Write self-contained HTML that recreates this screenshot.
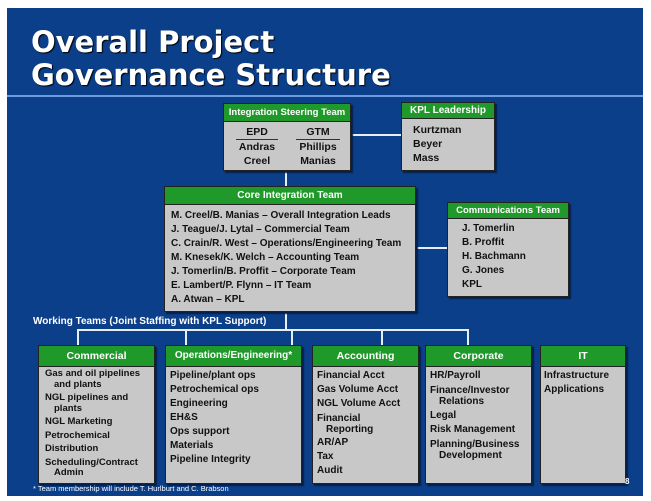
<!DOCTYPE html>
<html><head><meta charset="utf-8"><style>
body{margin:0;width:651px;height:501px;background:#fff;position:relative;overflow:hidden;font-family:"Liberation Sans",Arial,sans-serif}
#bg{position:absolute;left:7px;top:8px;width:636px;height:488px;background:#0c3f89}
.t{position:absolute;left:31px;top:26px;color:#fff;font:900 29px/33px "DejaVu Sans","Liberation Sans",sans-serif;letter-spacing:0;text-shadow:1px 1px 1px #000}
.sep{position:absolute;left:7px;top:95px;width:636px;height:2px;background:#6d9be0}
.box{position:absolute;background:#c8c8c8;border:1px solid #222;box-shadow:2px 2px 1px #05204a;font-size:10.5px;font-weight:bold;color:#111;line-height:14px}
.h{background:#1f9a2a;color:#fff;text-align:center;font-weight:bold;border-bottom:1px solid #222}
.l{position:absolute;background:#e6eef8}
.it{padding-left:14px;text-indent:-9px}
</style></head><body>
<div id="bg"></div>
<div class="t">Overall Project<br>Governance Structure</div>
<div class="sep"></div>
<div class="l" style="left:349px;top:134px;width:52px;height:2px"></div>
<div class="l" style="left:285px;top:169px;width:2px;height:17px"></div>
<div class="l" style="left:414px;top:247px;width:33px;height:2px"></div>
<div class="l" style="left:285px;top:310px;width:2px;height:20px"></div>
<div class="l" style="left:77px;top:329px;width:392px;height:2px"></div>
<div class="l" style="left:77px;top:329px;width:2px;height:16px"></div>
<div class="l" style="left:185px;top:329px;width:2px;height:16px"></div>
<div class="l" style="left:291px;top:329px;width:2px;height:16px"></div>
<div class="l" style="left:381px;top:329px;width:2px;height:16px"></div>
<div class="l" style="left:467px;top:329px;width:2px;height:16px"></div>

<div class="box" style="left:223px;top:103px;width:126px;height:66px">
<div class="h" style="height:17px;line-height:17px;font-size:9.5px">Integration Steering Team</div>
<div style="position:absolute;left:12px;top:21px;width:42px;text-align:center;line-height:14px">
<div style="border-bottom:1px solid #333">EPD</div>Andras<br>Creel</div>
<div style="position:absolute;left:72px;top:21px;width:44px;text-align:center;line-height:14px">
<div style="border-bottom:1px solid #333">GTM</div>Phillips<br>Manias</div>
</div>
<div class="box" style="left:401px;top:102px;width:92px;height:67px">
<div class="h" style="height:15px;line-height:15px;font-size:10px">KPL Leadership</div>
<div style="padding:4px 0 0 11px;line-height:14px">Kurtzman<br>Beyer<br>Mass</div></div>

<div class="box" style="left:164px;top:186px;width:250px;height:124px">
<div class="h" style="height:17px;line-height:17px;font-size:10px">Core Integration Team</div>
<div style="padding:4px 0 0 6px;line-height:14px;font-size:10px">M. Creel/B. Manias – Overall Integration Leads<br>J. Teague/J. Lytal – Commercial Team<br>C. Crain/R. West – Operations/Engineering Team<br>M. Knesek/K. Welch – Accounting Team<br>J. Tomerlin/B. Proffit – Corporate Team<br>E. Lambert/P. Flynn – IT Team<br>A. Atwan – KPL</div></div>

<div class="box" style="left:447px;top:202px;width:120px;height:93px">
<div class="h" style="height:15px;line-height:15px;font-size:9.5px">Communications Team</div>
<div style="padding:3px 0 0 14px;line-height:14px;font-size:10px">J. Tomerlin<br>B. Proffit<br>H. Bachmann<br>G. Jones<br>KPL</div></div>

<div style="position:absolute;left:33px;top:316px;color:#fff;font-size:10px;font-weight:bold">Working Teams (Joint Staffing with KPL Support)</div>

<div class="box" style="left:38px;top:345px;width:115px;height:137px">
<div class="h" style="height:20px;line-height:20px;font-size:10.5px">Commercial</div>
<div style="padding:2px 0 0 1px;line-height:10.5px;font-size:9.5px">
<div class="it">Gas and oil pipelines and plants</div><div class="it" style="margin-top:3px">NGL pipelines and plants</div><div class="it" style="margin-top:3px">NGL Marketing</div><div class="it" style="margin-top:3px">Petrochemical</div><div class="it" style="margin-top:3px">Distribution</div><div class="it" style="margin-top:3px">Scheduling/Contract Admin</div></div></div>

<div class="box" style="left:165px;top:345px;width:135px;height:137px">
<div class="h" style="height:20px;line-height:20px;font-size:10px">Operations/Engineering*</div>
<div style="padding:2px 0 0 4px;line-height:14px;font-size:10px">Pipeline/plant ops<br>Petrochemical ops<br>Engineering<br>EH&amp;S<br>Ops support<br>Materials<br>Pipeline Integrity</div></div>

<div class="box" style="left:312px;top:345px;width:105px;height:137px">
<div class="h" style="height:20px;line-height:20px;font-size:10.5px">Accounting</div>
<div style="padding:2px 0 0 4px;line-height:14px;font-size:10px">Financial Acct<br>Gas Volume Acct<br>NGL Volume Acct<div class="it" style="line-height:11px;padding-top:2px;margin-left:-5px">Financial<br>Reporting</div><div style="margin-top:1px">AR/AP<br>Tax<br>Audit</div></div></div>

<div class="box" style="left:425px;top:345px;width:105px;height:137px">
<div class="h" style="height:20px;line-height:20px;font-size:10.5px">Corporate</div>
<div style="padding:2px 0 0 4px;line-height:14px;font-size:10px">HR/Payroll<div class="it" style="line-height:11px;margin-left:-5px;padding-top:2px">Finance/Investor Relations</div><div style="margin-top:2px">Legal<br>Risk Management</div><div class="it" style="line-height:11px;margin-left:-5px;padding-top:2px">Planning/Business Development</div></div></div>

<div class="box" style="left:540px;top:345px;width:84px;height:137px">
<div class="h" style="height:20px;line-height:20px;font-size:10.5px">IT</div>
<div style="padding:2px 0 0 3px;line-height:14px;font-size:10px">Infrastructure<br>Applications</div></div>

<div style="position:absolute;left:33px;top:484px;color:#fff;font-size:7.5px">* Team membership will include T. Hurlburt and C. Brabson</div>
<div style="position:absolute;left:625px;top:477px;color:#fff;font-size:8px;font-weight:bold">8</div>
</body></html>
